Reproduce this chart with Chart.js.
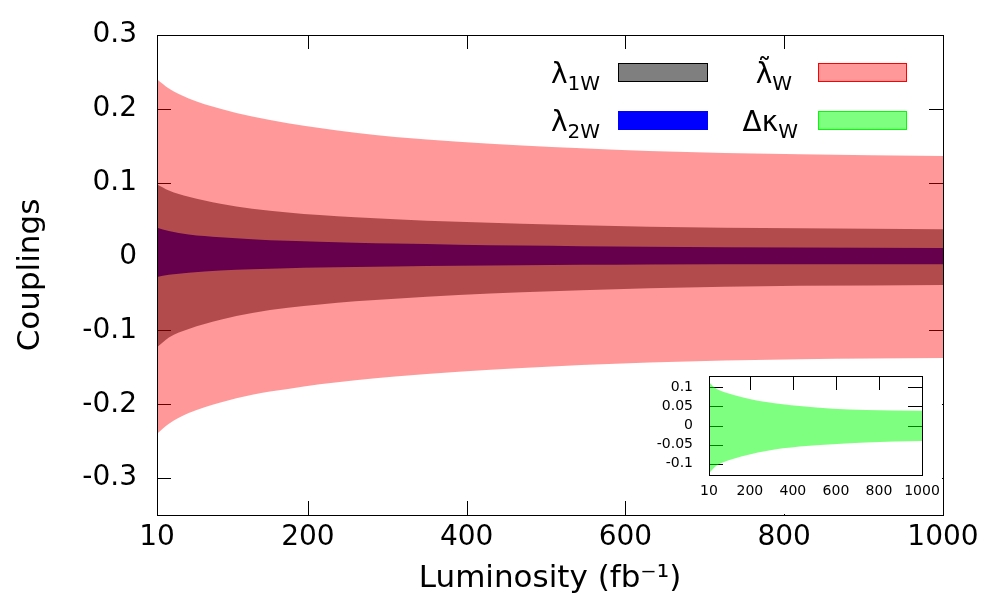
<!DOCTYPE html>
<html><head><meta charset="utf-8">
<script src="https://cdn.jsdelivr.net/npm/chart.js@4.4.0/dist/chart.umd.min.js"></script>
<style>
html,body{margin:0;padding:0;background:#fff;}
#main{position:absolute;left:0;top:0;width:1000px;height:600px;}
#inset{position:absolute;left:645px;top:368px;width:297px;height:146px;}
</style></head><body>
<div id="main"><canvas id="c1"></canvas></div>
<div id="inset"><canvas id="c2"></canvas></div>
<script>
// ---- data ----
const lumi = [10, 25, 50, 90, 130, 175, 215, 260, 310, 390, 470, 545, 630, 820, 1000];
const lambdaTildeUp = [0.240, 0.2275, 0.214, 0.200, 0.1895, 0.1805, 0.174, 0.1675, 0.162, 0.1555, 0.1505, 0.1465, 0.143, 0.1385, 0.136];
const lambdaTildeLo = [-0.240, -0.2265, -0.212, -0.1975, -0.187, -0.1795, -0.173, -0.1675, -0.1625, -0.156, -0.151, -0.147, -0.1435, -0.139, -0.1375];
const lambda1Up = [0.098, 0.0895, 0.081, 0.0715, 0.0648, 0.0598, 0.0562, 0.0533, 0.0505, 0.047, 0.0445, 0.0425, 0.0405, 0.0382, 0.037];
const lambda1Lo = [-0.123, -0.1095, -0.098, -0.0855, -0.0765, -0.0695, -0.0648, -0.0605, -0.057, -0.052, -0.0483, -0.0455, -0.0428, -0.0397, -0.0384];
const lambda2Up = [0.039, 0.0345, 0.030, 0.0262, 0.0235, 0.0213, 0.0199, 0.0187, 0.0176, 0.0161, 0.015, 0.0141, 0.0133, 0.0122, 0.0116];
const lambda2Lo = [-0.0278, -0.0248, -0.0218, -0.019, -0.0172, -0.0159, -0.015, -0.0142, -0.0134, -0.0124, -0.0117, -0.0112, -0.0107, -0.0104, -0.0104];

const lumiInset = [10, 25, 44, 121, 276, 431, 586, 740, 1000];
const kappaUp = [0.114, 0.105, 0.0965, 0.081, 0.0614, 0.051, 0.044, 0.041, 0.0386];
const kappaLo = [-0.1255, -0.116, -0.106, -0.0877, -0.0667, -0.055, -0.049, -0.0447, -0.041];

const xTicks = [10, 200, 400, 600, 800, 1000];
const yTicks = [-0.3, -0.2, -0.1, 0, 0.1, 0.2, 0.3];
const yTicksInset = [-0.1, -0.05, 0, 0.05, 0.1];
const yTicksInsetRight = [0, 0.05, 0.1];
const xTicksInsetTop = [200, 400, 600, 800];

const FAM = '"DejaVu Sans", sans-serif';

function pts(xs, ys){ return xs.map((x,i)=>({x:x, y:ys[i]})); }
function band(xs, up, lo, color){
  return [
    {data: pts(xs, up), fill: '+1', backgroundColor: color, borderColor: 'transparent', borderWidth: 0, pointRadius: 0},
    {data: pts(xs, lo), fill: false, borderColor: 'transparent', borderWidth: 0, pointRadius: 0}
  ];
}
function fixSize(prop, val){
  return s => { s[prop] = val; s.paddingTop = 0; s.paddingBottom = 0; s.paddingLeft = 0; s.paddingRight = 0; };
}

function tickPlugin(xTop, xBot, yLeft, yRight, len){
  return {
    id: 'inTicks',
    beforeDatasetsDraw(chart){
      const {ctx, chartArea: a, scales: {x, y}} = chart;
      ctx.save();
      ctx.strokeStyle = '#000'; ctx.lineWidth = 1;
      ctx.beginPath();
      xTop.forEach(v=>{ const p = Math.round(x.getPixelForValue(v))+0.5; ctx.moveTo(p, a.top); ctx.lineTo(p, a.top+len); });
      xBot.forEach(v=>{ const p = Math.round(x.getPixelForValue(v))+0.5; ctx.moveTo(p, a.bottom); ctx.lineTo(p, a.bottom-len); });
      yLeft.forEach(v=>{ const p = Math.round(y.getPixelForValue(v))+0.5; ctx.moveTo(a.left, p); ctx.lineTo(a.left+len, p); });
      yRight.forEach(v=>{ const p = Math.round(y.getPixelForValue(v))+0.5; ctx.moveTo(a.right, p); ctx.lineTo(a.right-len, p); });
      ctx.stroke();
      ctx.restore();
    },
    afterDatasetsDraw(chart){
      const {ctx, chartArea: a} = chart;
      ctx.save();
      ctx.strokeStyle = '#000'; ctx.lineWidth = 1;
      ctx.strokeRect(a.left+0.5, a.top+0.5, a.right-a.left, a.bottom-a.top);
      ctx.restore();
    }
  };
}

function richText(ctx, parts, rightX, baseY){
  let total = 0;
  parts.forEach(p=>{ ctx.font = p.size+'px '+FAM; p.w = ctx.measureText(p.t).width; total += p.w; });
  let x = rightX - total;
  parts.forEach(p=>{ ctx.font = p.size+'px '+FAM; ctx.fillText(p.t, x, baseY + p.dy); x += p.w; });
}

const legendPlugin = {
  id: 'keyBox',
  afterDraw(chart){
    const ctx = chart.ctx;
    ctx.save();
    ctx.fillStyle = '#000';
    ctx.textBaseline = 'alphabetic';
    ctx.textAlign = 'left';
    richText(ctx, [{t:'λ', size:28, dy:0}, {t:'1W', size:20, dy:7.5}], 600, 82.7);
    richText(ctx, [{t:'λ', size:28, dy:0}, {t:'2W', size:20, dy:7.5}], 600, 130.7);
    richText(ctx, [{t:'λ\u0303', size:28, dy:0}, {t:'W', size:20, dy:7.5}], 792, 82.7);
    richText(ctx, [{t:'Δκ', size:28, dy:0}, {t:'W', size:20, dy:7.5}], 798, 130.7);
    ctx.lineWidth = 1;
    ctx.fillStyle = 'rgba(0,0,0,0.5)'; ctx.fillRect(618, 63, 90, 19);
    ctx.strokeStyle = '#000'; ctx.strokeRect(618.5, 63.5, 89, 18);
    ctx.fillStyle = 'rgb(0,0,255)'; ctx.fillRect(618, 111, 90, 19);
    ctx.fillStyle = 'rgba(255,0,0,0.4)'; ctx.fillRect(818, 63, 89, 19);
    ctx.strokeStyle = 'rgb(255,0,0)'; ctx.strokeRect(818.5, 63.5, 88, 18);
    ctx.fillStyle = 'rgba(0,255,0,0.5)'; ctx.fillRect(818, 111, 89, 19);
    ctx.strokeStyle = 'rgb(0,255,0)'; ctx.strokeRect(818.5, 111.5, 88, 18);
    ctx.restore();
  }
};

const whiteBg = {
  id: 'whiteBg',
  beforeDraw(chart){
    const ctx = chart.ctx;
    ctx.save(); ctx.fillStyle = '#fff'; ctx.fillRect(0, 0, chart.width, chart.height); ctx.restore();
  }
};

// ---- main chart ----
new Chart(document.getElementById('c1'), {
  type: 'line',
  data: { datasets: [
    ...band(lumi, lambdaTildeUp, lambdaTildeLo, 'rgba(255,0,0,0.4)'),
    ...band(lumi, lambda1Up, lambda1Lo, 'rgba(0,0,0,0.5)'),
    ...band(lumi, lambda2Up, lambda2Lo, 'rgb(0,0,255)')
  ]},
  options: {
    responsive: true, maintainAspectRatio: false, animation: false,
    layout: { padding: { left: 0, top: 35, right: 57, bottom: 0 } },
    plugins: { legend: { display: false }, tooltip: { enabled: false } },
    elements: { point: { radius: 0 }, line: { borderWidth: 0, cubicInterpolationMode: 'monotone' } },
    scales: {
      x: {
        type: 'linear', min: 10, max: 1000,
        afterBuildTicks: s => { s.ticks = xTicks.map(v => ({value: v})); },
        afterFit: fixSize('height', 85),
        grid: { display: false, drawTicks: false }, border: { display: false },
        ticks: { font: { family: FAM, size: 28 }, color: '#000', padding: 6, maxRotation: 0, autoSkip: false, callback: v => String(v) },
        title: { display: true, text: 'Luminosity (fb⁻¹)', font: { family: FAM, size: 31 }, color: '#000', padding: { top: 0, bottom: 2.5 } }
      },
      y: {
        type: 'linear', min: -0.35, max: 0.3,
        afterBuildTicks: s => { s.ticks = yTicks.map(v => ({value: v})); },
        afterFit: fixSize('width', 157),
        grid: { display: false, drawTicks: false }, border: { display: false },
        ticks: { font: { family: FAM, size: 28 }, color: '#000', padding: 20, callback: v => String(v) },
        title: { display: true, text: 'Couplings', font: { family: FAM, size: 31 }, color: '#000', padding: { top: 12, bottom: 0 } }
      }
    }
  },
  plugins: [tickPlugin(xTicks, xTicks, yTicks, yTicks, 14), legendPlugin]
});

// ---- inset chart ----
new Chart(document.getElementById('c2'), {
  type: 'line',
  data: { datasets: band(lumiInset, kappaUp, kappaLo, 'rgba(0,255,0,0.5)') },
  options: {
    responsive: true, maintainAspectRatio: false, animation: false,
    layout: { padding: { left: 0, top: 8, right: 20, bottom: 0 } },
    plugins: { legend: { display: false }, tooltip: { enabled: false } },
    elements: { point: { radius: 0 }, line: { borderWidth: 0, cubicInterpolationMode: 'monotone' } },
    scales: {
      x: {
        type: 'linear', min: 10, max: 1000,
        afterBuildTicks: s => { s.ticks = xTicks.map(v => ({value: v})); },
        afterFit: fixSize('height', 39),
        grid: { display: false, drawTicks: false }, border: { display: false },
        ticks: { font: { family: FAM, size: 14 }, color: '#000', padding: 8, maxRotation: 0, autoSkip: false, callback: v => String(v) }
      },
      y: {
        type: 'linear', min: -0.13, max: 0.13,
        afterBuildTicks: s => { s.ticks = yTicksInset.map(v => ({value: v})); },
        afterFit: fixSize('width', 64),
        grid: { display: false, drawTicks: false }, border: { display: false },
        ticks: { font: { family: FAM, size: 14 }, color: '#000', padding: 16, callback: v => String(v) }
      }
    }
  },
  plugins: [whiteBg, tickPlugin(xTicksInsetTop, [], yTicksInset, yTicksInsetRight, 14)]
});
</script></body></html>
